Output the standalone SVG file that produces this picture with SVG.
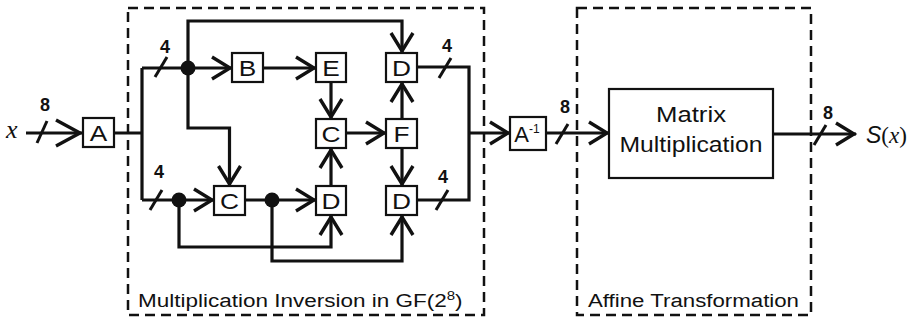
<svg xmlns="http://www.w3.org/2000/svg" width="915" height="320" viewBox="0 0 915 320">
<defs>
<style>
.wire{fill:none;stroke:#111;stroke-width:3.2;stroke-linejoin:miter}
.arr{marker-end:url(#ah)}
.box{fill:#fff;stroke:#111;stroke-width:2.2}
.dash{fill:none;stroke:#111;stroke-width:2.5;stroke-dasharray:10 6}
.sl{fill:none;stroke:#111;stroke-width:3}
.dot{fill:#111}
.lbl{font-family:"Liberation Sans",Arial,sans-serif;font-size:22px;fill:#111;text-anchor:middle}
.num{font-family:"Liberation Sans",Arial,sans-serif;font-size:18px;font-weight:bold;fill:#111;text-anchor:middle}
.cap{font-family:"Liberation Sans",Arial,sans-serif;font-size:18px;fill:#111}
.var{font-family:"Liberation Serif","Times New Roman",serif;font-style:italic;font-size:26px;fill:#111}
</style>
<marker id="ah" viewBox="-22 -13 26 26" refX="2" refY="0" markerWidth="26" markerHeight="26" markerUnits="userSpaceOnUse" orient="auto">
<path d="M-18,-11 L0,0 L-18,11" fill="none" stroke="#111" stroke-width="3.4"/>
</marker>
<marker id="ahL" viewBox="-30 -16 34 32" refX="2" refY="0" markerWidth="34" markerHeight="32" markerUnits="userSpaceOnUse" orient="auto">
<path d="M-24,-13 L0,0 L-24,13" fill="none" stroke="#111" stroke-width="3.4"/>
</marker>
<path id="slash" d="M-6,10 L6,-10"/>
</defs>
<rect width="915" height="320" fill="#fff"/>

<g id="cluster-inversion">
<rect class="dash" x="128" y="8" width="356" height="307"/>
<text class="cap" transform="translate(138,307) scale(1.25,1)">Multiplication Inversion in GF(2<tspan font-size="12" dy="-7">8</tspan><tspan dy="7">)</tspan></text>
</g>
<g id="cluster-affine">
<rect class="dash" x="577" y="8" width="234" height="307"/>
<text class="cap" x="588" y="307" font-size="19" textLength="211" lengthAdjust="spacingAndGlyphs">Affine Transformation</text>
</g>

<g id="connectors">
<path class="wire" d="M26,133 H82" marker-end="url(#ahL)"/>
<path class="sl" d="M37,143 L47,121"/>
<path class="wire" d="M114,133 H142 M142,68 V200"/>
<path class="wire arr" d="M142,68 H232"/>
<path class="wire arr" d="M263,68 H316"/>
<path class="wire arr" d="M188,68 V21 H402 V53"/>
<path class="wire arr" d="M188,68 V128 H229.5 V186"/>
<path class="wire arr" d="M142,200 H214"/>
<path class="wire arr" d="M245,200 H316"/>
<path class="wire arr" d="M179,200 V247 H331 V215"/>
<path class="wire arr" d="M272,200 V261 H402 V215"/>
<path class="wire arr" d="M331,82 V119"/>
<path class="wire arr" d="M331,186 V148"/>
<path class="wire arr" d="M346,133 H386"/>
<path class="wire arr" d="M402,119 V82"/>
<path class="wire arr" d="M402,148 V186"/>
<path class="wire" d="M417,67 H469 V200 H417"/>
<path class="wire arr" d="M469,133 H510"/>
<path class="wire arr" d="M546,133 H609"/>
<path class="wire arr" d="M773,134 H856"/>
<circle class="dot" cx="188" cy="68" r="7.5"/>
<circle class="dot" cx="179" cy="200" r="7.5"/>
<circle class="dot" cx="272" cy="200" r="7.5"/>
<use href="#slash" class="sl" x="161" y="67"/>
<use href="#slash" class="sl" x="156" y="200"/>
<use href="#slash" class="sl" x="445" y="68"/>
<use href="#slash" class="sl" x="442" y="200"/>
<use href="#slash" class="sl" x="562" y="134"/>
<use href="#slash" class="sl" x="820" y="135"/>
<text class="num" x="45" y="111">8</text>
<text class="num" x="165" y="53">4</text>
<text class="num" x="159" y="178">4</text>
<text class="num" x="447" y="52">4</text>
<text class="num" x="443" y="183">4</text>
<text class="num" x="565" y="113">8</text>
<text class="num" x="828" y="119">8</text>
</g>

<g id="input-x"><text class="var" x="6" y="138">x</text></g>
<g id="output-s"><text x="866" y="143" font-size="23" fill="#111"><tspan font-family="Liberation Sans,Arial,sans-serif" font-style="italic">S</tspan><tspan font-family="Liberation Serif,serif">(</tspan><tspan font-family="Liberation Serif,serif" font-style="italic">x</tspan><tspan font-family="Liberation Serif,serif">)</tspan></text></g>

<g id="node-A"><rect class="box" x="83" y="118" width="31" height="29"/><text class="lbl" x="98.5" y="140.5" textLength="17.5" lengthAdjust="spacingAndGlyphs">A</text></g>
<g id="node-B"><rect class="box" x="232" y="53" width="31" height="29"/><text class="lbl" x="247.5" y="75.5" textLength="17.5" lengthAdjust="spacingAndGlyphs">B</text></g>
<g id="node-E"><rect class="box" x="316" y="53" width="30" height="29"/><text class="lbl" x="331" y="75.5" textLength="17.5" lengthAdjust="spacingAndGlyphs">E</text></g>
<g id="node-D1"><rect class="box" x="386" y="53" width="31" height="29"/><text class="lbl" x="401.5" y="75.5" textLength="19" lengthAdjust="spacingAndGlyphs">D</text></g>
<g id="node-C2"><rect class="box" x="316" y="119" width="30" height="29"/><text class="lbl" x="331" y="141.5" textLength="19" lengthAdjust="spacingAndGlyphs">C</text></g>
<g id="node-F"><rect class="box" x="386" y="119" width="31" height="29"/><text class="lbl" x="401.5" y="141.5" textLength="16" lengthAdjust="spacingAndGlyphs">F</text></g>
<g id="node-C1"><rect class="box" x="214" y="186" width="31" height="29"/><text class="lbl" x="229.5" y="208.5" textLength="19" lengthAdjust="spacingAndGlyphs">C</text></g>
<g id="node-D2"><rect class="box" x="316" y="186" width="30" height="29"/><text class="lbl" x="331" y="208.5" textLength="19" lengthAdjust="spacingAndGlyphs">D</text></g>
<g id="node-D3"><rect class="box" x="386" y="186" width="31" height="29"/><text class="lbl" x="401.5" y="208.5" textLength="19" lengthAdjust="spacingAndGlyphs">D</text></g>
<g id="node-Ainv"><rect class="box" x="510" y="117" width="36" height="33"/><text class="lbl" x="527" y="141.5">A<tspan font-size="12" dy="-9">-1</tspan></text></g>
<g id="node-matrix"><rect class="box" x="609" y="89" width="164" height="89"/>
<text class="lbl" x="691" y="122" font-size="21" textLength="70" lengthAdjust="spacingAndGlyphs">Matrix</text>
<text class="lbl" x="691" y="152" font-size="21" textLength="143" lengthAdjust="spacingAndGlyphs">Multiplication</text></g>
</svg>
